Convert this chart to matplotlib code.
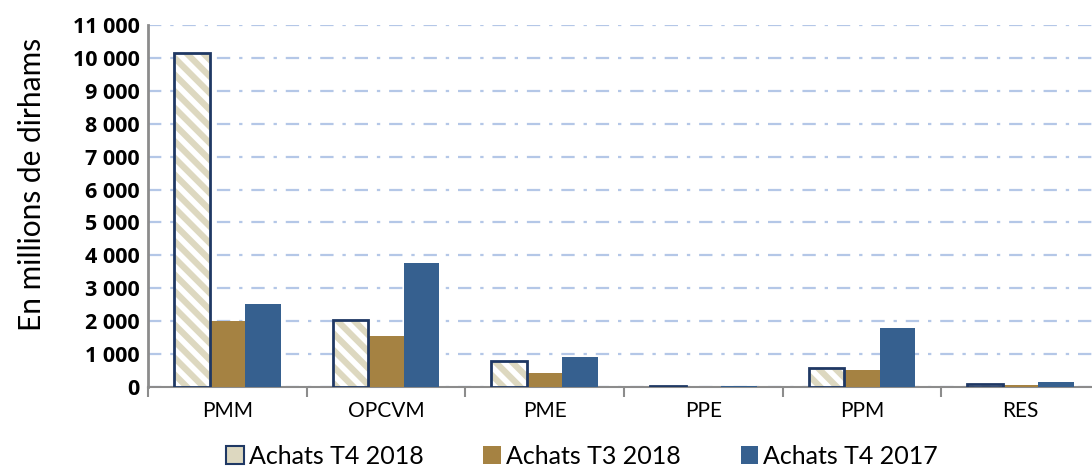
import matplotlib
matplotlib.use("Agg")
import matplotlib.pyplot as plt
import numpy as np
from matplotlib.ticker import FuncFormatter, FixedLocator
from matplotlib.patches import Patch

categories = ["PMM", "OPCVM", "PME", "PPE", "PPM", "RES"]
achats_t4_2018 = [10150, 2040, 790, 40, 570, 80]
achats_t3_2018 = [2000, 1550, 420, 10, 510, 70]
achats_t4_2017 = [2520, 3770, 910, 40, 1790, 140]
series_labels = ["Achats T4 2018", "Achats T3 2018", "Achats T4 2017"]
y_ticks = list(range(0, 11001, 1000))

plt.rcParams['hatch.linewidth'] = 4.5

fig = plt.figure(figsize=(10.92, 4.69), dpi=100)
ax = fig.add_axes([148/1092, 1-387/469, (1100-148)/1092, (387-25)/469])

x = np.arange(len(categories))
w = 0.224
navy = "#1f3864"
gold = "#a58242"
blue = "#36608f"
beige = "#ddd8c0"
light = ["Lato", "DejaVu Sans"]

ax.bar(x - w, achats_t4_2018, w, color="white", edgecolor=beige, hatch="\\\\", linewidth=0, zorder=3)
ax.bar(x - w, achats_t4_2018, w, fill=False, edgecolor=navy, linewidth=2, zorder=4)
ax.bar(x, achats_t3_2018, w, color=gold, linewidth=0, zorder=3)
ax.bar(x + w, achats_t4_2017, w, color=blue, linewidth=0, zorder=3)

ax.set_xlim(-0.5, len(categories) - 0.5)
ax.set_ylim(0, 11000)
ax.yaxis.set_major_locator(FixedLocator(y_ticks))
ax.yaxis.set_major_formatter(FuncFormatter(lambda v, p: f"{int(v):,}".replace(",", " ")))
ax.grid(axis="y", color="#b4c7e7", linestyle=(0, (6, 4, 1.5, 4)), linewidth=1.6, zorder=0)
ax.set_axisbelow(True)

ax.set_xticks(x)
ax.set_xticklabels(categories, fontsize=15, family=light, color="black")
ax.set_xticks(np.arange(-0.5, len(categories), 1.0), minor=True)
ax.tick_params(axis="x", which="major", length=0, pad=10)
ax.tick_params(axis="x", which="minor", length=7, width=1.5, color="#8c8c8c")
ax.tick_params(axis="y", length=0, pad=6)
for lab in ax.get_yticklabels():
    lab.set_fontweight("bold")
    lab.set_fontsize(15.5)
    lab.set_family(["Open Sans", "DejaVu Sans"])

for s in ["top", "right"]:
    ax.spines[s].set_visible(False)
ax.spines["left"].set_color("#8c8c8c")
ax.spines["left"].set_linewidth(2)
ax.spines["bottom"].set_color("#8c8c8c")
ax.spines["bottom"].set_linewidth(1.5)

ax.set_ylabel("En millions de dirhams", fontsize=21.5, family=light, color="black", labelpad=8)
ax.yaxis.set_label_coords(-0.107, 0.56)

handles = [
    Patch(facecolor=beige, edgecolor=navy, linewidth=1.5),
    Patch(facecolor=gold, edgecolor="none"),
    Patch(facecolor=blue, edgecolor="none"),
]
fig.legend(handles, series_labels, loc="lower center", bbox_to_anchor=(582/1092, -0.045),
           ncol=3, frameon=False, handlelength=0.7, handleheight=0.7,
           handletextpad=0.2, columnspacing=2.4,
           prop={"family": light, "size": 18})

fig.savefig("out.png", dpi=100)
